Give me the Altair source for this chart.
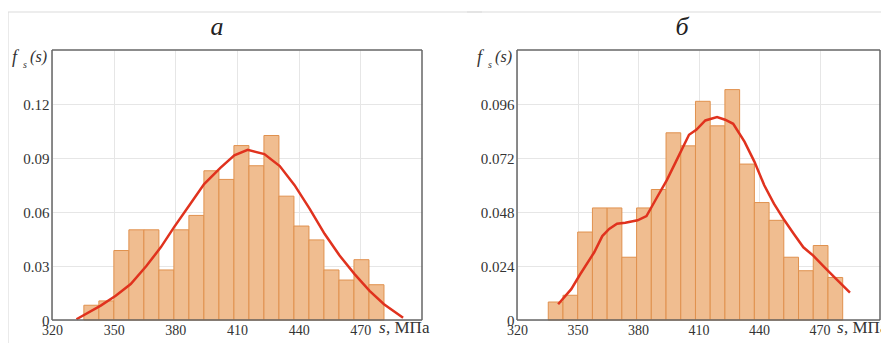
import altair as alt
import pandas as pd

# ---- data ----
edges = [335.5, 342.8, 350.1, 357.4, 364.7, 372.0, 379.3, 386.6, 393.9, 401.2, 408.5,
         415.8, 423.1, 430.4, 437.7, 445.0, 452.3, 459.6, 466.9, 474.2, 481.5]
freq_a = [0.0082, 0.0106, 0.0386, 0.0501, 0.0501, 0.0278, 0.0501, 0.0581, 0.0829, 0.0781,
          0.0969, 0.0857, 0.1025, 0.0688, 0.0522, 0.0445, 0.0278, 0.0222, 0.0335, 0.0196]
freq_b = [0.0080, 0.0110, 0.0391, 0.0498, 0.0498, 0.0279, 0.0498, 0.0580, 0.0832, 0.0774,
          0.0972, 0.0863, 0.1024, 0.0693, 0.0522, 0.0443, 0.0279, 0.0219, 0.0331, 0.0189]

curve_a_x = [331.9, 343.7, 351.0, 358.3, 365.9, 373.0, 379.4, 387.0, 394.0, 401.9, 408.7,
             415.2, 423.3, 430.8, 438.0, 445.3, 452.6, 459.9, 467.2, 474.5, 481.5, 490.8]
curve_a_y = [0.0004, 0.0080, 0.0135, 0.0200, 0.0300, 0.0405, 0.0516, 0.0640, 0.0755, 0.0845, 0.0915,
             0.0945, 0.0922, 0.0855, 0.0749, 0.0619, 0.0479, 0.0358, 0.0255, 0.0162, 0.0088, 0.0013]

curve_b_x = [340.4, 346.9, 351.1, 358.3, 362.3, 365.7, 369.6, 373.7, 379.8, 384.2, 389.1,
             394.3, 398.8, 405.3, 408.9, 413.4, 419.2, 423.2, 427.2, 432.8, 437.7, 442.6,
             447.4, 452.6, 457.2, 462.0, 466.9, 471.8, 476.6, 485.1]
curve_b_y = [0.0070, 0.0137, 0.0200, 0.0301, 0.0373, 0.0405, 0.0428, 0.0432, 0.0443, 0.0462, 0.0540,
             0.0622, 0.0704, 0.0823, 0.0845, 0.0887, 0.0902, 0.0890, 0.0872, 0.0793, 0.0704, 0.0599,
             0.0517, 0.0443, 0.0383, 0.0323, 0.0286, 0.0241, 0.0197, 0.0122]

x_ticks = [320, 350, 380, 410, 440, 470]
y_ticks_a = [0, 0.03, 0.06, 0.09, 0.12]
y_ticks_b = [0, 0.024, 0.048, 0.072, 0.096]
titles = ["а", "б"]
x_unit = ", МПа"

FONT = "Liberation Serif"
H = 270
BAR_FILL = "#F0BD90"
BAR_STROKE = "#E0914E"
CURVE = "#E0321E"
GRID = "#e6e6e6"
BORDER = "#dcdcdc"
FRAME = "#666666"

one = alt.Data(values=[{"k": 1}])


def txt(text, x, y, size, italic=False, align="left", baseline="alphabetic", color="#333"):
    return alt.Chart(one).mark_text(
        text=text, font=FONT, fontSize=size, fontStyle="italic" if italic else "normal",
        align=align, baseline=baseline, color=color
    ).encode(x=alt.value(x), y=alt.value(y))


def seg(x1, y1, x2=None, y2=None, color=FRAME, width=1.5):
    enc = {"x": alt.value(x1), "y": alt.value(y1)}
    if x2 is not None:
        enc["x2"] = alt.value(x2)
    if y2 is not None:
        enc["y2"] = alt.value(y2)
    return alt.Chart(one).mark_rule(color=color, strokeWidth=width).encode(**enc)


def panel(freq, cx, cy, yticks, ymax, title, fmt, W, left_border):
    bars_df = pd.DataFrame({"lo": edges[:-1], "hi": edges[1:], "f": freq})
    curve_df = pd.DataFrame({"s": cx, "f": cy})
    xs = alt.Scale(domain=[320, 500], nice=False, zero=False)
    ys = alt.Scale(domain=[0, ymax], nice=False)
    xaxis = alt.Axis(values=x_ticks, title=None, ticks=False, domain=False, labelFont=FONT,
                     labelFontSize=14, labelColor="#333", labelPadding=3, labelFlush=False,
                     gridColor=GRID, format="d")
    yaxis = alt.Axis(values=yticks, title=None, ticks=False, domain=False, labelFont=FONT,
                     labelFontSize=15, labelColor="#333", labelPadding=3, gridColor=GRID,
                     labelExpr=f"datum.value == 0 ? '0' : format(datum.value, '{fmt}')")
    bars = alt.Chart(bars_df).mark_bar(
        fill=BAR_FILL, stroke=BAR_STROKE, strokeWidth=1, opacity=1
    ).encode(
        x=alt.X("lo:Q", scale=xs, axis=xaxis),
        x2="hi:Q",
        y=alt.Y("f:Q", scale=ys, axis=yaxis),
        y2=alt.datum(0),
    )
    line = alt.Chart(curve_df).mark_line(color=CURVE, strokeWidth=2.5).encode(
        x=alt.X("s:Q", scale=xs), y=alt.Y("f:Q", scale=ys)
    )
    layers = [bars, line]
    # plot frame
    layers += [seg(0, 0, x2=W), seg(0, H, x2=W), seg(0, 0, y2=H), seg(W, 0, y2=H)]
    # top border line of the figure
    layers.append(seg(-50 if not left_border else -44, -38, x2=W + 60, color=BORDER, width=1.2))
    if left_border:
        layers.append(seg(-44, -38, y2=300, color=BORDER, width=1.2))
    # title
    layers.append(txt(title, 165, -15, 26, italic=True, align="center", color="#222"))
    # y label f_s(s)
    layers.append(txt("f", -40, 13, 18, italic=True, color="#333"))
    layers.append(txt("s", -29, 18, 10, italic=True, color="#333"))
    layers.append(txt("(s)", -5, 12, 16, italic=True, align="right", color="#333"))
    # x label s, MPa
    layers.append(txt("s", W - 43, 283, 17, italic=True, color="#333"))
    layers.append(txt(x_unit, W - 36, 283, 17, color="#333"))
    return alt.layer(*layers).properties(width=W, height=H)


a = panel(freq_a, curve_a_x, curve_a_y, y_ticks_a, 0.15, titles[0], ".2f", 370, True)
b = panel(freq_b, curve_b_x, curve_b_y, y_ticks_b, 0.12, titles[1], ".3f", 363, False)

chart = alt.hconcat(a, b, spacing=95, bounds="flush").properties(
    autosize=alt.AutoSizeParams(type="none"),
    padding={"left": 44, "top": 42, "right": 829, "bottom": 293},
    background="white",
).configure_view(stroke=None)

chart.save("out.html", embed_options={"renderer": "svg", "actions": False})
